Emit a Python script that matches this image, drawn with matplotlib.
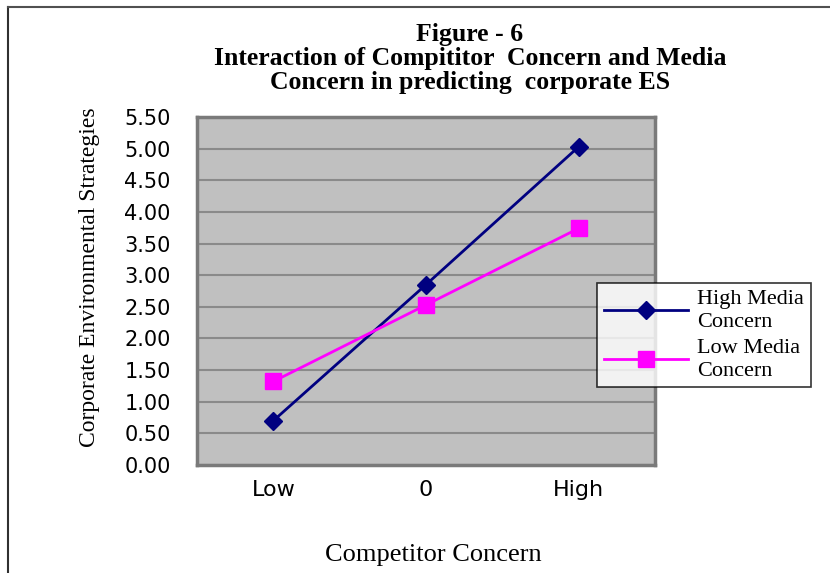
import matplotlib
matplotlib.use("Agg")
import matplotlib.pyplot as plt
from matplotlib.lines import Line2D

categories = ["Low", "0", "High"]
high_media = [0.70, 2.85, 5.03]
low_media = [1.32, 2.53, 3.74]
yticks = [0.0, 0.5, 1.0, 1.5, 2.0, 2.5, 3.0, 3.5, 4.0, 4.5, 5.0, 5.5]
series_names = ["High Media\nConcern", "Low Media\nConcern"]
title_lines = ["Figure - 6",
               "Interaction of Compititor  Concern and Media",
               "Concern in predicting  corporate ES"]

serif = "Liberation Serif"
sans = "DejaVu Sans"

fig = plt.figure(figsize=(8.3, 5.73), dpi=100)
fig.patch.set_facecolor("white")

ax = fig.add_axes([197/830, 1-465/573, (655-197)/830, (465-117)/573])
ax.set_facecolor("#C0C0C0")
x = list(range(len(categories)))
l1, = ax.plot(x, high_media, color="#000080", lw=2, marker="D", markersize=9,
              markerfacecolor="#000080", markeredgecolor="#000080", zorder=3)
l2, = ax.plot(x, low_media, color="#FF00FF", lw=2, marker="s", markersize=12,
              markerfacecolor="#FF00FF", markeredgecolor="#FF00FF", zorder=3)
ax.set_xlim(-0.5, 2.5)
ax.set_ylim(0, 5.5)
ax.set_yticks(yticks)
ax.set_yticklabels([f"{v:.2f}" for v in yticks], fontfamily=sans, fontsize=15)
ax.set_xticks(x)
ax.set_xticklabels(categories, fontfamily=sans, fontsize=16)
ax.tick_params(axis="x", length=0, pad=11)
ax.tick_params(axis="y", length=0, pad=19)
ax.yaxis.grid(True, color="#8a8a8a", lw=1.5)
ax.set_axisbelow(True)
for s in ax.spines.values():
    s.set_color("#7a7a7a")
    s.set_linewidth(2.5)

ax.set_ylabel("Corporate Environmental Strategies", fontfamily=serif, fontsize=17)
ax.yaxis.set_label_coords(-0.212, 0.54)
ax.set_xlabel("Competitor Concern", fontfamily=serif, fontsize=19)
ax.xaxis.set_label_coords(0.515, -0.228)

for ty, line in zip([34, 58, 83], title_lines):
    fig.text(470/830, 1-ty/573, line, ha="center", va="center", fontfamily=serif,
             fontweight="bold", fontsize=18.5)

leg = ax.legend([l1, l2], series_names, loc="upper left",
                bbox_to_anchor=(597/830, 1-283/573), bbox_transform=fig.transFigure,
                prop={"family": serif, "size": 16}, frameon=True, fancybox=False,
                handlelength=3.8, labelspacing=0.3, borderpad=0.3, handletextpad=0.4,
                borderaxespad=0)
leg.get_frame().set_edgecolor("black")
leg.get_frame().set_linewidth(1.2)
for t in leg.get_texts():
    t.set_linespacing(1.3)

fig.add_artist(Line2D([8/830, 8/830], [0, 1-7/573], transform=fig.transFigure, color="#303030", lw=1.5))
fig.add_artist(Line2D([8/830, 1], [1-7/573, 1-7/573], transform=fig.transFigure, color="#505050", lw=1.5))

fig.savefig("out.png", dpi=100)
